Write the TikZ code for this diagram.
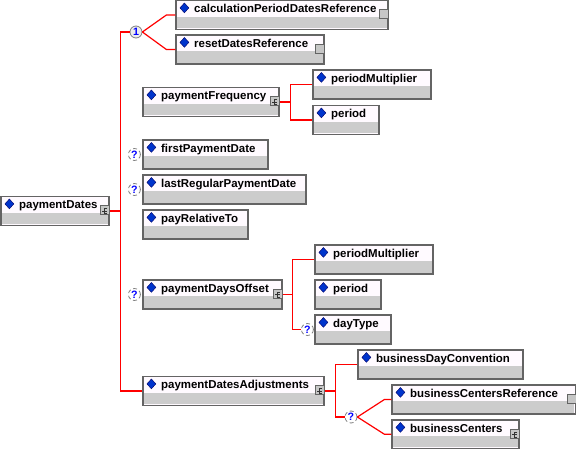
\documentclass[tikz,border=0pt]{standalone}
\usepackage{fontspec}
\setmainfont{Liberation Sans}
\usepackage{tikz}
\usetikzlibrary{calc,fit,shapes.geometric}
\definecolor{wirered}{RGB}{255,0,0}
\definecolor{boxedge}{RGB}{100,100,100}
\definecolor{boxfill}{RGB}{255,250,255}
\definecolor{bandgray}{RGB}{204,204,204}
\definecolor{tickblue}{RGB}{0,51,204}

\begin{document}
\begin{tikzpicture}[x=0.75pt,y=-0.75pt,
    elembox/.style={draw=boxedge,fill=boxfill,line width=0.9pt,inner sep=0pt},
    elemband/.style={fill=bandgray},
    elemtext/.style={anchor=base west,inner sep=0pt,font=\fontsize{8.6}{10}\selectfont\bfseries},
    elemtick/.style={diamond,fill=tickblue,draw=blue!40!black,line width=0.3pt,inner sep=0pt,minimum width=6.8pt,minimum height=7.5pt},
    iconbox/.style={draw=boxedge,fill=gray!45,line width=0.75pt},
    glyph/.style={draw=black!80,line width=0.6pt},
    wire/.style={draw=wirered,line width=0.9pt},
    compositor/.style={circle,draw=gray,fill=gray!15,line width=0.6pt,inner sep=0pt,minimum size=9pt,text=blue,font=\fontsize{8}{8}\selectfont\bfseries},
    optional/.style={compositor,densely dashed,fill=white}]
  \useasboundingbox (0,0) rectangle (576,450);
  % element boxes: name/left/top/right/bottom/label (in pixels)
  \foreach \nm/\xa/\ya/\xb/\yb/\txt in {
      PaymentDates/1/196.5/109/225.5/paymentDates,
      CalcRef/176/0.5/388/29.5/calculationPeriodDatesReference,
      ResetRef/176/35/324/64/resetDatesReference,
      PayFreq/143/87.5/279/116.5/paymentFrequency,
      FreqMult/313/70/431/99/periodMultiplier,
      FreqPeriod/313/105.5/379/134.5/period,
      FirstPay/143/140/268/169/firstPaymentDate,
      LastPay/143/175/306/204/lastRegularPaymentDate,
      PayRelative/143/210/248/239/payRelativeTo,
      PayOffset/143/280/282/309/paymentDaysOffset,
      OffMult/315/245/433/274/periodMultiplier,
      OffPeriod/315/280/381/309/period,
      DayType/315/315/391/344/dayType,
      PayAdjust/143/376.5/324/405.5/paymentDatesAdjustments,
      BizConv/358/350/523/379/businessDayConvention,
      BizRef/392/385/575.5/414/businessCentersReference,
      BizCenters/392/420/519/448.5/businessCenters}{
    \coordinate (\nm NW) at (\xa,\ya);
    \coordinate (\nm SE) at (\xb,\yb);
    \node[elembox,fit=(\nm NW)(\nm SE)] (\nm) {};
    \fill[elemband] ($(\nm.south west)+(2,-2)$) rectangle ($(\nm.north east)+(-2,17)$);
    \node[elemtick] (\nm Tick) at ($(\nm.north west)+(9,8)$) {};
    \node[elemtext] (\nm Text) at ($(\nm.north west)+(18.5,13)$) {\txt};
  }
  % reference icons
  \foreach \nm in {CalcRef,ResetRef,BizRef}{
    \draw[iconbox] ($(\nm.north east)+(-9,10)$) rectangle ++(9,9);
  }
  % complex type icons
  \foreach \nm in {PaymentDates,PayFreq,PayOffset,PayAdjust,BizCenters}{
    \draw[iconbox] ($(\nm.north east)+(-9,10)$) rectangle ++(9,9);
    \draw[glyph] ($(\nm.north east)+(-2.5,12.5)$) -- ++(-3,0) -- ++(0,5) -- ++(3,0)
      ($(\nm.north east)+(-7.5,15)$) -- ++(4.5,0);
  }
  % compositors
  \node[compositor] (ChoiceOne) at (136,32) {1};
  \node[optional] (OptFirst) at ($(FirstPay.west)+(-8,0)$) {?};
  \node[optional] (OptLast) at ($(LastPay.west)+(-8,0)$) {?};
  \node[optional] (OptOffset) at ($(PayOffset.west)+(-8,0)$) {?};
  \node[optional] (OptDay) at ($(DayType.west)+(-7,0)$) {?};
  \node[optional] (OptCenters) at (351,417) {?};
  % connectors
  \draw[wire] (PaymentDates.east) -- ++(10.5,0) coordinate (Trunk);
  \draw[wire] (ChoiceOne.west) -| (Trunk) |- (PayAdjust.west);
  \draw[wire] (ChoiceOne.east) -- ($(CalcRef.west)+(-9,0)$) -- (CalcRef.west);
  \draw[wire] (ChoiceOne.east) -- ($(ResetRef.west)+(-9,0)$) -- (ResetRef.west);
  \draw[wire] (PayFreq.east) -- ++(10.5,0) coordinate (FreqJoin);
  \draw[wire] (FreqMult.west) -| (FreqJoin) |- (FreqPeriod.west);
  \draw[wire] (PayOffset.east) -- ++(9.5,0) coordinate (OffJoin);
  \draw[wire] (OffMult.west) -| (OffJoin) |- (OptDay.west);
  \draw[wire] (PayAdjust.east) -- ++(10.5,0) coordinate (AdjJoin);
  \draw[wire] (BizConv.west) -| (AdjJoin) |- (OptCenters.west);
  \draw[wire] (OptCenters.east) -- ($(BizRef.west)+(-7,0)$) -- (BizRef.west);
  \draw[wire] (OptCenters.east) -- ($(BizCenters.west)+(-7,0)$) -- (BizCenters.west);
\end{tikzpicture}
\end{document}
